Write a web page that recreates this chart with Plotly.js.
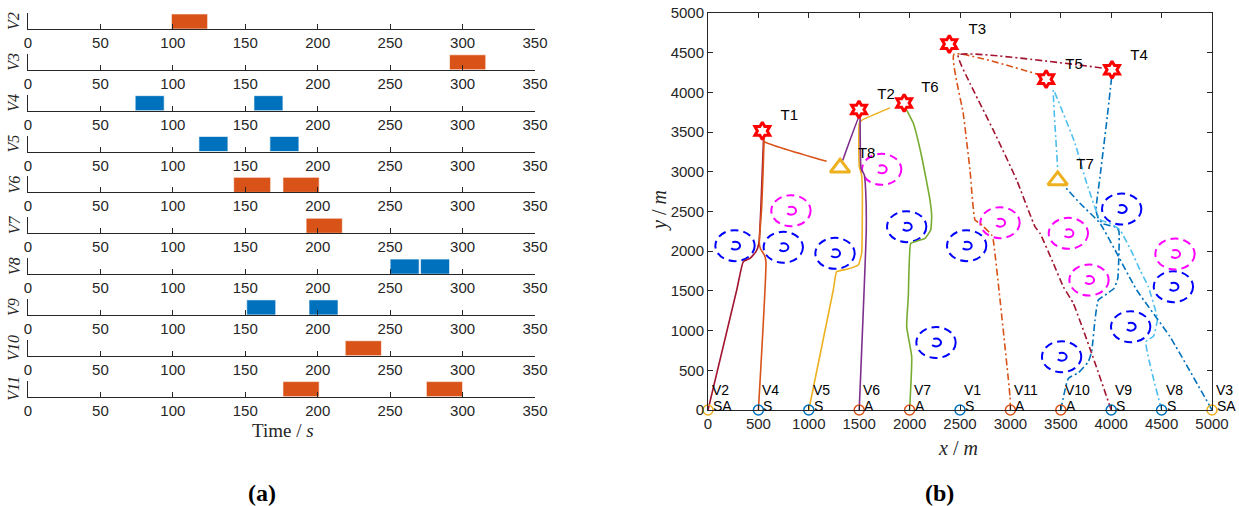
<!DOCTYPE html>
<html><head><meta charset="utf-8">
<script src="https://cdn.plot.ly/plotly-3.0.1.min.js"></script>
<style>html,body{margin:0;padding:0;background:#fff;} #chart{width:1239px;height:506px;}</style>
</head><body><div id="chart"></div>
<script>
// ---------- Panel (a): task time windows ----------
const ganttVehicles = ['V2','V3','V4','V5','V6','V7','V8','V9','V10','V11'];
const ganttKinds    = ['A','A','S','S','A','A','S','S','A','A'];
const taskStarts = [[99],[291],[74,156],[118,167],[142,176],[192],[250,271],[151,194],[219],[176,275]];
const taskEnds   = [[124],[316],[94,176],[138,187],[167.5,201],[217],[270,291],[171,214],[244],[201,300]];
const timeTicks  = [0,50,100,150,200,250,300,350];

// ---------- Panel (b): trajectories ----------
const startNames = ['V2','V4','V5','V6','V7','V1','V11','V10','V9','V8','V3'];
const startX     = [0,500,1000,1500,2000,2500,3000,3500,4000,4500,5000];
const startTypes = ['SA','S','S','A','A','S','A','A','S','S','SA'];

const starNames = ['T1','T2','T3','T4','T5','T6'];
const starX     = [539,1498,2394,4008,3355,1946];
const starY     = [3515,3785,4608,4285,4167,3866];
const triNames  = ['T7','T8'];
const triX      = [3469,1310];
const triY      = [2892,3050];
const targetLabelNames = ['T1','T2','T3','T4','T5','T6','T7','T8'];
const targetLabelX = [807,1766,2672,4276,3631,2202,3740,1574];
const targetLabelY = [3695,3967,4778,4458,4345,4052,3082,3224];

const blueObsX = [268,747,1260,1971,2566,4104,4617,4193,3508,2262];
const blueObsY = [2070,2050,1973,2309,2070,2531,1553,1049,671,850];
const magObsX  = [823,1723,2897,3575,3780,4633];
const magObsY  = [2510,3031,2359,2225,1637,1965];

const pathV2x  = [0,285,350,417,476,505,525,550,553];
const pathV2y  = [0,1511,1868,1910,1994,2100,2560,3383,3440];
const pathV4x  = [500,575,560,520,509,533,556,553,556,1177];
const pathV4y  = [0,1868,1950,2030,2100,2560,3383,3440,3383,3132];
const pathV5x  = [1000,1243,1276,1376,1491,1524,1531,1524,1501,1501,1525,1806];
const pathV5y  = [0,1511,1742,1772,1826,1973,2771,2960,3065,3611,3649,3805];
const pathV6x  = [1500,1570,1564,1551,1518,1508,1505,1336];
const pathV6y  = [0,2267,2771,2960,3044,3695,3720,3143];
const pathV7x  = [2000,2021,1971,1987,2011,2054,2153,2209,2219,2202,2120,2037,1971];
const pathV7y  = [0,671,1049,1427,2099,2120,2162,2267,2435,2645,3190,3611,3778];
const pathV11x = [3000,2996,2830,2814,2698,2649,2599,2532,2440,3294];
const pathV11y = [0,167,2141,2204,2351,2393,3023,3737,4480,4219];
const pathV10x = [3500,3575,3674,3773,3806,3839,3872,3955,4028,4065,4077,4077,4054,3922,3872,3849,3889,3961,4005];
const pathV10y = [0,398,469,608,734,1133,1385,1461,1532,1658,1973,2250,2300,2343,2414,2519,2938,3695,4198];
const pathV9x  = [4000,3806,3624,3525,3426,3294,3244,3062,2830,2599,2483,3938];
const pathV9y  = [0,714,1343,1553,1847,2225,2309,2897,3526,4114,4471,4303];
const pathV8x  = [4500,4345,4420,4458,4451,4368,4286,4203,4087,3990,3889,3757,3641,3436,3426,3469];
const pathV8y  = [0,860,930,1133,1200,1553,1763,1994,2267,2350,2400,2855,3359,4010,4030,3043];
const pathV3x  = [5000,4583,4253,3889,3690,3525];
const pathV3y  = [0,923,1511,2351,2603,2834];
const mapTicks = [0,500,1000,1500,2000,2500,3000,3500,4000,4500,5000];

// ---------- styling / layout ----------
const W = 1239, H = 506;
const fx = px => px / W, fy = py => 1 - py / H;
const ganttLeft = 28, ganttRight = 535, firstBase = 29, rowStep = 40.85, rowH = 16;
const mapLeft = 708, mapRight = 1212, mapTop = 13, mapBottom = 410;
const kindColor = {A:'#D95319', S:'#0072BD', SA:'#EDB120'};
const axisCol = '#262626';
const sans = 'Arial, "Liberation Sans", sans-serif';
const serif = '"Liberation Serif", "Times New Roman", serif';
const outerR = 195, innerR = 50;

const traces = [];
const layout = {
  width: W, height: H, autosize: false,
  margin: {l:0, r:0, t:0, b:0, pad:0},
  paper_bgcolor: '#fff', plot_bgcolor: '#fff',
  showlegend: false, font: {family: sans, color: axisCol, size: 15},
  annotations: [], shapes: []
};

function paperNote(px, py, text, size, color, angle) {
  layout.annotations.push({xref: 'paper', yref: 'paper', x: fx(px), y: fy(py),
    xanchor: 'center', yanchor: 'middle', text: text, textangle: angle || 0,
    showarrow: false, borderpad: 0, font: {family: serif, size: size, color: color}});
}

ganttVehicles.forEach((v, i) => {
  const sfx = i === 0 ? '' : String(i + 1);
  const base = firstBase + rowStep * i;
  layout['xaxis' + sfx] = {
    domain: [fx(ganttLeft), fx(ganttRight)], anchor: 'y' + sfx, range: [0, 350],
    tickvals: timeTicks, ticks: 'inside', ticklen: 5, tickcolor: axisCol, tickwidth: 1,
    showline: true, linecolor: axisCol, linewidth: 1, showgrid: false, zeroline: false,
    tickfont: {family: sans, size: 15, color: axisCol}, fixedrange: true
  };
  layout['yaxis' + sfx] = {
    domain: [fy(base), fy(base - rowH)], anchor: 'x' + sfx, range: [0, 1],
    showticklabels: false, ticks: '', showline: true, linecolor: axisCol, linewidth: 1,
    showgrid: false, zeroline: false, fixedrange: true
  };
  const st = taskStarts[i], en = taskEnds[i];
  traces.push({
    type: 'bar', orientation: 'h', xaxis: 'x' + sfx, yaxis: 'y' + sfx,
    base: st, x: en.map((e, k) => e - st[k]), y: st.map(() => 0.47), width: 0.94,
    marker: {color: kindColor[ganttKinds[i]], line: {color: 'rgba(255,255,255,0.6)', width: 1}},
    hoverinfo: 'skip'
  });
  paperNote(14, base - rowH / 2, '<i>' + v + '</i>', 16, axisCol, -90);
});

layout.xaxis11 = {
  domain: [fx(mapLeft), fx(mapRight)], anchor: 'y11', range: [0, 5000],
  tickvals: mapTicks, ticks: 'inside', ticklen: 5, tickcolor: axisCol, mirror: 'ticks',
  showline: true, linecolor: axisCol, linewidth: 1, showgrid: false, zeroline: false,
  tickfont: {family: sans, size: 15, color: axisCol}
};
layout.yaxis11 = {
  domain: [fy(mapBottom), fy(mapTop)], anchor: 'x11', range: [0, 5000],
  tickvals: mapTicks, ticks: 'inside', ticklen: 5, tickcolor: axisCol, mirror: 'ticks',
  showline: true, linecolor: axisCol, linewidth: 1, showgrid: false, zeroline: false,
  tickfont: {family: sans, size: 15, color: axisCol}
};

function addObstacles(xs, ys, col) {
  xs.forEach((cx, k) => {
    const cy = ys[k];
    layout.shapes.push({type: 'circle', xref: 'x11', yref: 'y11', layer: 'below',
      x0: cx - outerR, x1: cx + outerR, y0: cy - outerR, y1: cy + outerR,
      line: {color: col, width: 2, dash: '8px,5px'}});
    layout.shapes.push({type: 'circle', xref: 'x11', yref: 'y11', layer: 'below',
      x0: cx - innerR, x1: cx + innerR, y0: cy - innerR, y1: cy + innerR,
      line: {color: col, width: 2, dash: '11px,7px,11px'}});
  });
}
addObstacles(blueObsX, blueObsY, '#0000FF');
addObstacles(magObsX, magObsY, '#FF00FF');

const dd = '7px,3px,2px,3px';
const paths = [
  [pathV2x, pathV2y, '#A2142F', 'solid'],
  [pathV4x, pathV4y, '#D95319', 'solid'],
  [pathV5x, pathV5y, '#EDB120', 'solid'],
  [pathV6x, pathV6y, '#7E2F8E', 'solid'],
  [pathV7x, pathV7y, '#77AC30', 'solid'],
  [pathV11x, pathV11y, '#D95319', dd],
  [pathV10x, pathV10y, '#0072BD', dd],
  [pathV9x, pathV9y, '#A2142F', dd],
  [pathV8x, pathV8y, '#4DBEEE', dd],
  [pathV3x, pathV3y, '#0072BD', dd]
];
paths.forEach(p => traces.push({
  type: 'scatter', mode: 'lines', xaxis: 'x11', yaxis: 'y11', x: p[0], y: p[1],
  line: {color: p[2], width: 1.6, dash: p[3], shape: 'spline', smoothing: 0.4}, hoverinfo: 'skip'
}));

traces.push({
  type: 'scatter', mode: 'markers', xaxis: 'x11', yaxis: 'y11', cliponaxis: false,
  x: startX, y: startX.map(() => 0),
  marker: {symbol: 'circle-open', size: 10, color: startTypes.map(t => kindColor[t]), line: {width: 1.5}},
  hoverinfo: 'skip'
});
traces.push({
  type: 'scatter', mode: 'markers', xaxis: 'x11', yaxis: 'y11', cliponaxis: false,
  x: triX, y: triY,
  marker: {symbol: 'triangle-up-open', size: 17, color: '#EDB120', line: {width: 3, color: '#EDB120'}},
  hoverinfo: 'skip'
});
traces.push({
  type: 'scatter', mode: 'markers', xaxis: 'x11', yaxis: 'y11', cliponaxis: false,
  x: starX, y: starY,
  marker: {symbol: 'hexagram', size: 13, color: '#FFFFFF', line: {width: 3, color: '#FF0000'}},
  hoverinfo: 'skip'
});

// start labels: name above, type below, shifted right of each start circle
startNames.forEach((n, k) => {
  layout.annotations.push({xref: 'x11', yref: 'y11', x: startX[k], y: 256, xanchor: 'left', yanchor: 'middle',
    xshift: 3, text: n, showarrow: false, borderpad: 0, font: {family: sans, size: 14, color: '#000'}});
  layout.annotations.push({xref: 'x11', yref: 'y11', x: startX[k], y: 50, xanchor: 'left', yanchor: 'middle',
    xshift: 4, text: startTypes[k], showarrow: false, borderpad: 0, font: {family: sans, size: 14, color: '#000'}});
});
traces.push({
  type: 'scatter', mode: 'text', xaxis: 'x11', yaxis: 'y11', cliponaxis: false,
  x: targetLabelX, y: targetLabelY, text: targetLabelNames,
  textposition: 'middle center', textfont: {family: sans, size: 15, color: '#000'}, hoverinfo: 'skip'
});

paperNote(283, 430, 'Time / <i>s</i>', 19, axisCol, 0);
paperNote(958, 448, '<i>x</i> / <i>m</i>', 20, axisCol, 0);
paperNote(659, 211, '<i>y</i> / <i>m</i>', 20, axisCol, -90);
paperNote(262, 493, '<b>(a)</b>', 24, '#000', 0);
paperNote(939, 493, '<b>(b)</b>', 24, '#000', 0);

Plotly.newPlot('chart', traces, layout, {staticPlot: true, displayModeBar: false});
</script>
</body></html>
